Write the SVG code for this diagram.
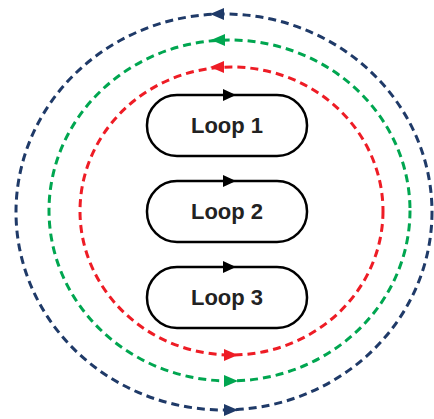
<svg xmlns="http://www.w3.org/2000/svg" width="434" height="419" viewBox="0 0 434 419">
  <style>
    .orbit { fill: none; stroke-width: 3; stroke-dasharray: 8 5; }
    .blue { stroke: #1f3a68; }
    .green { stroke: #00a650; }
    .red { stroke: #ee1c25; }
    .head-blue { fill: #1f3a68; }
    .head-green { fill: #00a650; }
    .head-red { fill: #ee1c25; }
    .loop { fill: #ffffff; stroke: #000000; stroke-width: 2.5; }
    .loop-head { fill: #000000; }
    .label { font-family: "Liberation Sans", Arial, sans-serif; font-weight: bold; font-size: 22px; fill: #222222; text-anchor: middle; }
  </style>
  <rect width="434" height="419" fill="#ffffff"/>

  <!-- dashed orbits with direction arrows -->
  <g id="connectors">
    <ellipse class="orbit blue" cx="224" cy="212" rx="208" ry="198"/>
    <ellipse class="orbit green" cx="229.5" cy="210.5" rx="180.5" ry="170.5"/>
    <ellipse class="orbit red" cx="231.5" cy="211" rx="151.5" ry="144"/>

    <polygon class="head-blue" points="210,14 224,8 224,20"/>
    <polygon class="head-green" points="211,40 225,34 225,46"/>
    <polygon class="head-red" points="210,67 224,61 224,73"/>

    <polygon class="head-red" points="238,355 224,349 224,361"/>
    <polygon class="head-green" points="238,381 224,375 224,387"/>
    <polygon class="head-blue" points="238,410 224,404 224,416"/>
  </g>

  <g id="loop1">
    <rect class="loop" x="147" y="95" width="160" height="61" rx="30" ry="30"/>
    <polygon class="loop-head" points="236,95 223,89 223,101"/>
    <text class="label" x="227" y="133">Loop 1</text>
  </g>

  <g id="loop2">
    <rect class="loop" x="147" y="181" width="160" height="61" rx="30" ry="30"/>
    <polygon class="loop-head" points="236,181 223,175 223,187"/>
    <text class="label" x="227" y="219">Loop 2</text>
  </g>

  <g id="loop3">
    <rect class="loop" x="147" y="267" width="160" height="61" rx="30" ry="30"/>
    <polygon class="loop-head" points="236,267 223,261 223,273"/>
    <text class="label" x="227" y="305">Loop 3</text>
  </g>
</svg>
